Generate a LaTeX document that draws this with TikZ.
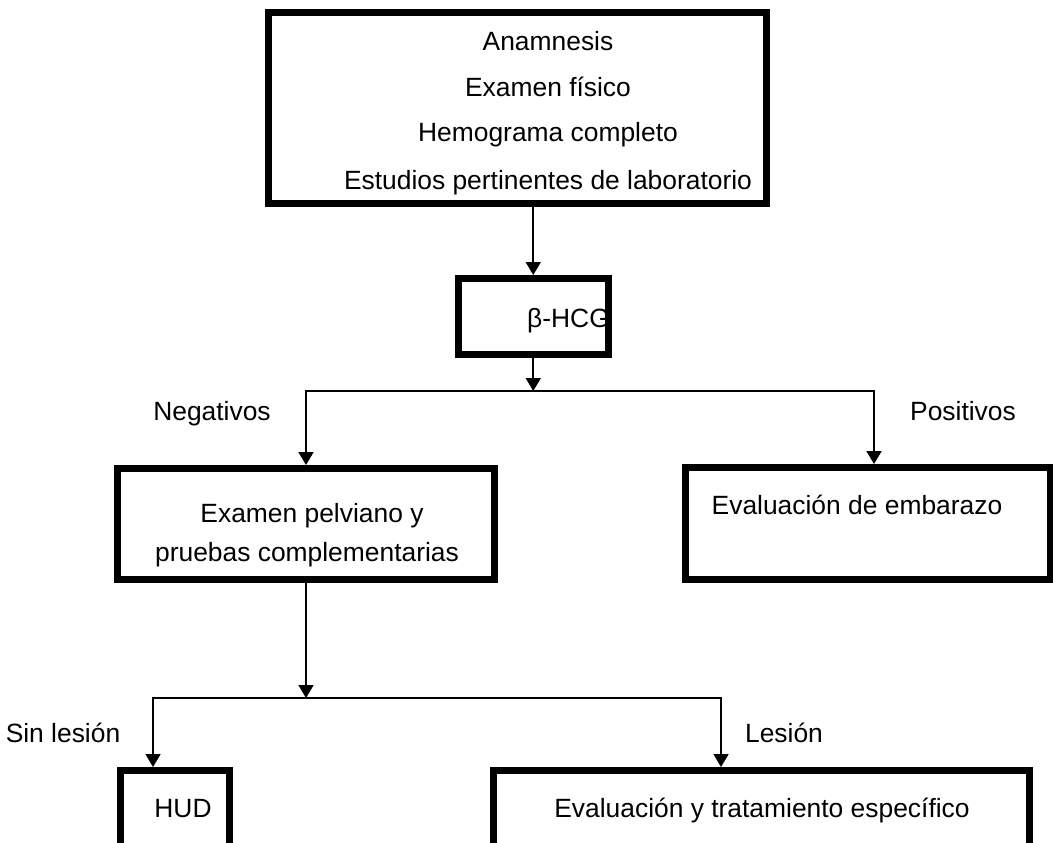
\documentclass[tikz,border=0pt]{standalone}
\usepackage{fontspec}
\setmainfont{Liberation Sans}
\usetikzlibrary{arrows.meta}
\begin{document}
\begin{tikzpicture}[x=1pt,y=-1pt,
  box/.style={draw, line width=7pt, rectangle, inner sep=0pt},
  txt/.style={font=\fontsize{26.4}{32}\selectfont, inner sep=0pt, anchor=base},
  conn/.style={line width=1.8pt},
  hline/.style={conn, line cap=rect},
  arr/.style={conn, -{Triangle[length=13pt,width=15pt]}}]
\useasboundingbox (0,0) rectangle (1053,843);
\clip (0,0) rectangle (1053,843);
\fill[white] (0,0) rectangle (1053,843);
% texts inside boxes
\node[txt] (t1) at (548,51) {Anamnesis};
\node[txt] (t2) at (548,96.5) {Examen físico};
\node[txt] (t3) at (548,142) {Hemograma completo};
\node[txt] (t4) at (548,189) {Estudios pertinentes de laboratorio};
\node[txt] (hcgt) at (568.5,327) {β-HCG};
\node[txt] (n1) at (312,522) {Examen pelviano y};
\node[txt] (n2) at (307,561) {pruebas complementarias};
\node[txt] (p1) at (857,514) {Evaluación de embarazo};
\node[txt] (hudt) at (183,817) {HUD};
\node[txt] (evt) at (762,817) {Evaluación y tratamiento específico};
% branch labels
\node[txt] (lneg) at (212,420) {Negativos};
\node[txt] (lpos) at (963,420) {Positivos};
\node[txt] (lsin) at (63,742) {Sin lesión};
\node[txt] (lles) at (784,742) {Lesión};
% boxes
\node[box, minimum width=498pt, minimum height=190.5pt] (top) at (517.5,107.75) {};
\node[box, minimum width=150.5pt, minimum height=76pt] (hcg) at (533.25,316.5) {};
\node[box, minimum width=377pt, minimum height=111pt] (neg) at (306,524) {};
\node[box, minimum width=364.5pt, minimum height=112pt] (pos) at (867.75,523.5) {};
\node[box, minimum width=109pt, minimum height=129.5pt] (hud) at (175,835.25) {};
\node[box, minimum width=536pt, minimum height=129.5pt] (eval) at (761.5,835.25) {};
% junctions
\coordinate (j1) at (533.25,391);
\coordinate (j1L) at (306,391);
\coordinate (j1R) at (874,391);
\coordinate (j2) at (306,698);
\coordinate (j2L) at (153,698);
\coordinate (j2R) at (721,698);
% connectors
\draw[arr] (hcg.north |- top.south) -- (hcg.north);
\draw[arr] (hcg.south) -- (j1);
\draw[hline] (j1L) -- (j1R);
\draw[arr] (j1L) -- (neg.north);
\draw[arr] (j1R) -- (j1R |- pos.north);
\draw[arr] (neg.south) -- (j2);
\draw[hline] (j2L) -- (j2R);
\draw[arr] (j2L) -- (j2L |- hud.north);
\draw[arr] (j2R) -- (j2R |- eval.north);
\end{tikzpicture}
\end{document}
